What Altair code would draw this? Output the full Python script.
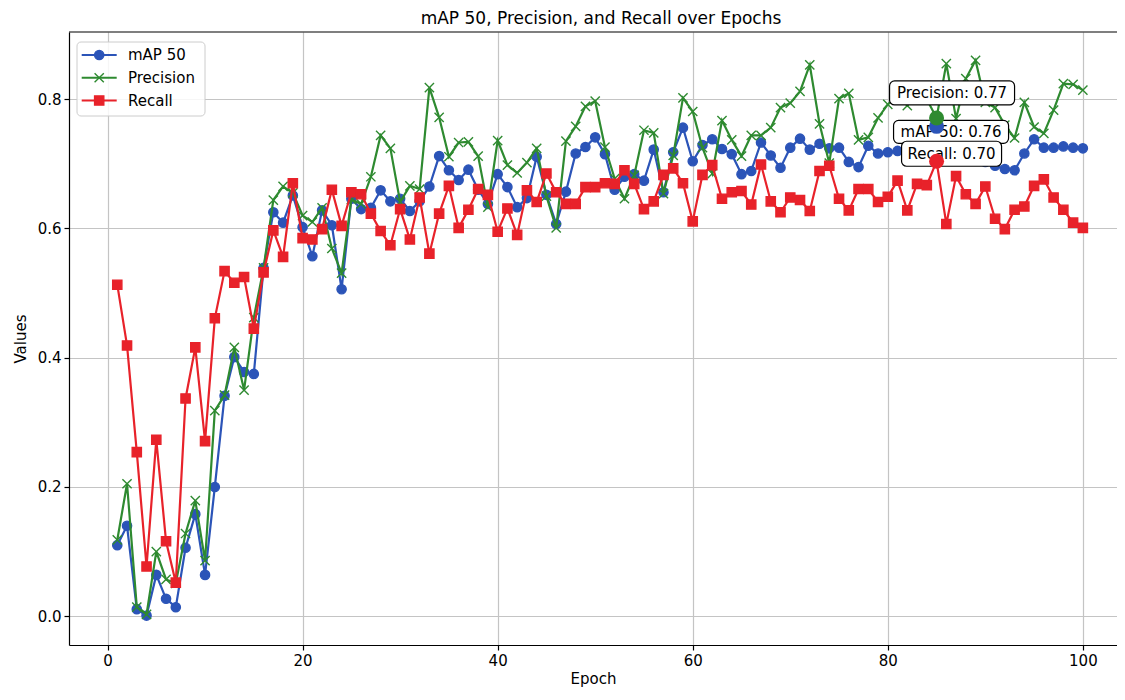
import altair as alt
import pandas as pd

# ---------------- data ----------------
epochs = list(range(1, 101))

map50 = [
    0.110, 0.140, 0.011, 0.001, 0.064, 0.027, 0.014, 0.106, 0.158, 0.064,
    0.200, 0.341, 0.401, 0.378, 0.375, 0.539, 0.625, 0.609, 0.651, 0.602,
    0.557, 0.628, 0.605, 0.506, 0.646, 0.630, 0.632, 0.659, 0.642, 0.646,
    0.627, 0.642, 0.665, 0.712, 0.690, 0.675, 0.691, 0.660, 0.638, 0.684,
    0.664, 0.633, 0.647, 0.711, 0.652, 0.607, 0.657, 0.716, 0.726, 0.741,
    0.715, 0.660, 0.680, 0.684, 0.674, 0.722, 0.656, 0.718, 0.756, 0.704,
    0.729, 0.738, 0.723, 0.715, 0.684, 0.689, 0.733, 0.713, 0.694, 0.725,
    0.739, 0.722, 0.731, 0.724, 0.725, 0.703, 0.695, 0.728, 0.716, 0.718,
    0.720, 0.722, 0.724, 0.728, 0.758, 0.725, 0.728, 0.720, 0.712, 0.703,
    0.697, 0.692, 0.690, 0.716, 0.738, 0.725, 0.725, 0.727, 0.725, 0.724,
]

precision = [
    0.118, 0.205, 0.014, 0.003, 0.100, 0.057, 0.051, 0.128, 0.179, 0.086,
    0.318, 0.342, 0.416, 0.350, 0.462, 0.539, 0.644, 0.665, 0.655, 0.620,
    0.610, 0.632, 0.569, 0.531, 0.645, 0.638, 0.680, 0.744, 0.724, 0.641,
    0.666, 0.661, 0.818, 0.772, 0.711, 0.733, 0.734, 0.712, 0.633, 0.736,
    0.698, 0.686, 0.702, 0.724, 0.650, 0.601, 0.735, 0.758, 0.789, 0.797,
    0.726, 0.677, 0.646, 0.682, 0.752, 0.748, 0.654, 0.713, 0.802, 0.781,
    0.725, 0.685, 0.767, 0.737, 0.712, 0.744, 0.744, 0.756, 0.787, 0.794,
    0.812, 0.853, 0.762, 0.701, 0.801, 0.809, 0.737, 0.741, 0.771, 0.792,
    0.805, 0.790, 0.810, 0.800, 0.771, 0.855, 0.770, 0.832, 0.860, 0.795,
    0.787, 0.760, 0.740, 0.795, 0.757, 0.747, 0.783, 0.824, 0.823, 0.814,
]

recall = [
    0.513, 0.419, 0.254, 0.077, 0.273, 0.116, 0.052, 0.337, 0.416, 0.271,
    0.461, 0.534, 0.516, 0.525, 0.445, 0.532, 0.597, 0.556, 0.670, 0.585,
    0.583, 0.599, 0.660, 0.604, 0.656, 0.653, 0.623, 0.596, 0.574, 0.630,
    0.583, 0.648, 0.561, 0.623, 0.666, 0.601, 0.629, 0.661, 0.652, 0.595,
    0.631, 0.590, 0.659, 0.641, 0.685, 0.656, 0.638, 0.638, 0.664, 0.664,
    0.670, 0.669, 0.690, 0.669, 0.630, 0.642, 0.683, 0.693, 0.670, 0.611,
    0.683, 0.698, 0.646, 0.656, 0.658, 0.637, 0.699, 0.642, 0.625, 0.648,
    0.644, 0.627, 0.689, 0.697, 0.646, 0.628, 0.661, 0.661, 0.641, 0.649,
    0.674, 0.628, 0.669, 0.667, 0.704, 0.607, 0.681, 0.653, 0.638, 0.665,
    0.615, 0.599, 0.629, 0.634, 0.666, 0.676, 0.648, 0.629, 0.609, 0.601,
]

names = ["mAP 50", "Precision", "Recall"]
series = [map50, precision, recall]
best_epoch = 85

x_ticks = [0, 20, 40, 60, 80, 100]
y_ticks = [0.0, 0.2, 0.4, 0.6, 0.8]

# ---------------- styles ----------------
colors = ["#2b54b8", "#2e8a30", "#e8222a"]
X_PATH = "M-1,-1L1,1M-1,1L1,-1"
shapes = ["circle", X_PATH, "square"]
FONT = "DejaVu Sans"
W, H = 1048, 613

# annotation box offsets (px, relative to the annotated point)
ann_style = {
    "Precision": dict(box=(-47, 78, -37, -13), text=(15.5, -25)),
    "mAP 50": dict(box=(-43, 72, -6, 17), text=(14.5, 5.5)),
    "Recall": dict(box=(-35, 65, -20, 5), text=(15, -7.5)),
}

# ---------------- tables ----------------
df = pd.DataFrame({
    "Epoch": epochs * 3,
    "Value": map50 + precision + recall,
    "Metric": [n for n in names for _ in epochs],
})

idx = epochs.index(best_epoch)
ann_df = pd.DataFrame({
    "Epoch": [best_epoch] * 3,
    "Value": [s[idx] for s in series],
    "Metric": names,
    "Label": [f"{n}: {s[idx]:.2f}" for n, s in zip(names, series)],
})
legend_df = pd.DataFrame({"Metric": names})

color_scale = alt.Scale(domain=names, range=colors)
shape_scale = alt.Scale(domain=names, range=shapes)

x_scale = alt.Scale(domain=[-3.95, 103.5], nice=False, zero=False)
y_scale = alt.Scale(domain=[-0.0445, 0.904], nice=False, zero=False)
x_axis = alt.Axis(values=x_ticks, format="d", title="Epoch", labelFlush=False)
y_axis = alt.Axis(values=y_ticks, format=".1f", title="Values", titlePadding=9)

X = alt.X("Epoch:Q", scale=x_scale, axis=x_axis)
Y = alt.Y("Value:Q", scale=y_scale, axis=y_axis)

base = alt.Chart(df).encode(x=X, y=Y)

layers = []
for name, color, shape in zip(names, colors, shapes):
    sub = base.transform_filter(alt.datum.Metric == name)
    layers.append(sub.mark_line(color=color, strokeWidth=2.2))
    layers.append(sub.mark_point(shape=shape, filled=True, color=color, stroke=color,
                                 strokeWidth=1.4, size=85, opacity=1))

ann_base = alt.Chart(ann_df).encode(x=X, y=Y)
for name in ["Precision", "mAP 50", "Recall"]:
    st = ann_style[name]
    x0, x1, y0, y1 = st["box"]
    sub = ann_base.transform_filter(alt.datum.Metric == name)
    layers.append(sub.mark_rect(fill="white", stroke="black", strokeWidth=1.2,
                                cornerRadius=5, xOffset=x0, x2Offset=x1,
                                yOffset=y0, y2Offset=y1).encode(
        x2=alt.X2("Epoch:Q"), y2=alt.Y2("Value:Q")))
    layers.append(sub.mark_text(dx=st["text"][0], dy=st["text"][1], fontSize=15,
                                font=FONT, color="black", align="center",
                                baseline="middle").encode(text="Label:N"))

layers.append(ann_base.mark_circle(size=225, opacity=1).encode(
    color=alt.Color("Metric:N", scale=color_scale, legend=None)))

main = alt.layer(*layers)

# ---------------- legend (matplotlib style, upper left) ----------------
LY = alt.Y("Metric:N", axis=None,
           scale=alt.Scale(type="point", domain=names, range=[23, 68.5], padding=0))
leg_box = alt.Chart(pd.DataFrame({"k": [0]})).mark_rect(
    fill="white", fillOpacity=0.85, stroke="#cccccc", strokeWidth=1, cornerRadius=4
).encode(x=alt.value(8), x2=alt.value(136), y=alt.value(10), y2=alt.value(84))
frame_top = alt.Chart(pd.DataFrame({"k": [0]})).mark_rule(
    color="black", strokeWidth=1.2
).encode(x=alt.value(0), x2=alt.value(W), y=alt.value(0))
leg_base = alt.Chart(legend_df)
leg_rule = leg_base.mark_rule(strokeWidth=2.2).encode(
    x=alt.value(12.7), x2=alt.value(47.7), y=LY,
    color=alt.Color("Metric:N", scale=color_scale, legend=None))
leg_pts = leg_base.mark_point(filled=True, size=85, strokeWidth=1.4, opacity=1).encode(
    x=alt.value(30.2), y=LY,
    color=alt.Color("Metric:N", scale=color_scale, legend=None),
    stroke=alt.Stroke("Metric:N", scale=color_scale, legend=None),
    shape=alt.Shape("Metric:N", scale=shape_scale, legend=None))
leg_txt = leg_base.mark_text(align="left", baseline="middle", fontSize=15,
                             font=FONT, color="black").encode(
    x=alt.value(59), y=LY, text="Metric:N")

legend = alt.layer(frame_top, leg_box, leg_rule, leg_pts, leg_txt)

chart = alt.layer(main, legend).resolve_scale(y="independent").properties(
    width=W, height=H,
    padding={"left": 61, "top": 24, "right": 0, "bottom": 47},
    autosize=alt.AutoSizeParams(type="none"),
    title=alt.TitleParams("mAP 50, Precision, and Recall over Epochs",
                          fontSize=17, fontWeight="normal", font=FONT,
                          color="black", offset=3, dx=8),
).configure_view(stroke=None).configure_axis(
    labelFont=FONT, titleFont=FONT, labelFontSize=15, titleFontSize=15,
    titleFontWeight="normal", labelColor="black", titleColor="black",
    tickColor="black", tickSize=5, tickWidth=1.2, domainColor="black",
    domainWidth=1.2, gridColor="#c4c4c4", gridWidth=1.2, labelPadding=3,
    titlePadding=3,
)

chart.save("out.html", embed_options={"renderer": "svg", "actions": False})
